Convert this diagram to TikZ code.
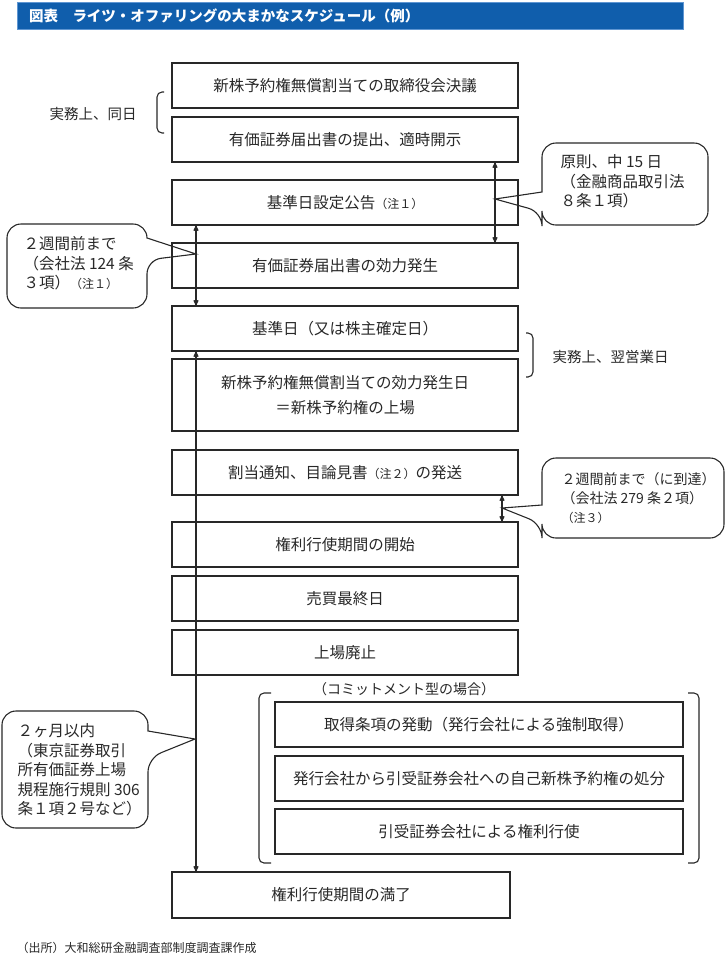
\documentclass[tikz,border=0pt]{standalone}
\usepackage{fontspec}
\setmainfont{Noto Sans CJK JP}
\usetikzlibrary{arrows, positioning}

\definecolor{barblue}{RGB}{16,94,172}
\definecolor{barline}{RGB}{95,150,210}
\definecolor{ink}{RGB}{40,40,40}

\newcommand{\chu}[1]{{\fontsize{12}{14}\selectfont #1}}

\begin{document}
\begin{tikzpicture}[x=1pt,y=-1pt,>=stealth',line width=1.1pt,
    font=\fontsize{15.5}{19.5}\selectfont,
    box/.style={draw=ink, text=ink, minimum width=346pt, minimum height=45pt, inner sep=0pt, outer sep=0pt},
    subbox/.style={box, minimum width=408pt},
    memo/.style={anchor=north west, align=left, inner sep=0pt, text=ink},
    bubble/.style={draw=ink, rounded corners=14pt},
    brace/.style={draw=ink, rounded corners=5pt},
    titlebar/.style={fill=barblue, draw=barline, line width=0.8pt, text=white, minimum height=27pt,
      text width=642pt, inner xsep=12pt, align=left, font=\fontsize{14.5}{17}\selectfont\bfseries}]
  \useasboundingbox (0,0) rectangle (726,959);
  \node[titlebar] (title) at (350,15.5) {図表　ライツ・オファリングの大まかなスケジュール（例）};

  \node[box]                 (b1)  at (345,85.5) {新株予約権無償割当ての取締役会決議};
  \node[box, below=9pt of b1]  (b2)  {有価証券届出書の提出、適時開示};
  \node[box, below=18pt of b2] (b3)  {基準日設定公告\chu{（注１）}};
  \node[box, below=18pt of b3] (b4)  {有価証券届出書の効力発生};
  \node[box, below=18pt of b4] (b5)  {基準日（又は株主確定日）};
  \node[box, below=8pt of b5, minimum height=72pt, align=center] (b6)
       {新株予約権無償割当ての効力発生日\\[6pt]＝新株予約権の上場};
  \node[box, below=19pt of b6] (b7)  {割当通知、目論見書\chu{（注２）}の発送};
  \node[box, below=27pt of b7] (b8)  {権利行使期間の開始};
  \node[box, below=9pt of b8]  (b9)  {売買最終日};
  \node[box, below=9pt of b9]  (b10) {上場廃止};
  \node[subbox]                (k1)  at (479,724.5) {取得条項の発動（発行会社による強制取得）};
  \node[subbox, below=9pt of k1] (k2) {発行会社から引受証券会社への自己新株予約権の処分};
  \node[subbox, below=8pt of k2] (k3) {引受証券会社による権利行使};
  \node[box, minimum width=338pt, minimum height=46pt, anchor=north west] (b14) at (172,872) {権利行使期間の満了};

  % side notes and brackets
  \node[text=ink, font=\fontsize{14.5}{17}\selectfont] (sameday) at (93,114) {実務上、同日};
  \draw[brace] (164,92) -- (157,92) -- (157,133) -- (164,133);
  \node[text=ink, anchor=west, inner sep=0pt, font=\fontsize{14.5}{17}\selectfont] (nextday) at (552,357) {実務上、翌営業日};
  \draw[brace] (526,333) -- (533,333) -- (533,377) -- (526,377);
  \node[text=ink, font=\fontsize{14}{16}\selectfont] (commit) at (404,689) {（コミットメント型の場合）};
  \draw[brace] (271,693) -- (259,693) -- (259,863) -- (271,863);
  \draw[brace] (688,693) -- (699,693) -- (699,863) -- (688,863);

  % period arrows
  \coordinate (ra) at (495,0);
  \coordinate (la) at (196,0);
  \coordinate (rb) at (502,0);
  \draw[<->, draw=ink] (b2.south -| ra) -- (b4.north -| ra);
  \draw[<->, draw=ink] (b3.south -| la) -- (b5.north -| la);
  \draw[<->, draw=ink] (b5.south -| la) -- (b14.north -| la);
  \draw[<->, draw=ink] (b7.south -| rb) -- (b8.north -| rb);

  % callouts
  \coordinate (t1) at (196,254);
  \coordinate (t2) at (495,199);
  \coordinate (t3) at (502,508);
  \coordinate (t4) at (195,739);
  \draw[bubble] (147,238) -- (147,224) -- (7,224) -- (7,308) -- (147,308) -- (147,260) [sharp corners] -- (t1) -- cycle;
  \node[memo] (c1) at (23,236) {２週間前まで\\（会社法 124 条\\３項）\chu{（注１）}};
  \draw[bubble] (542,192) -- (542,143) -- (708,143) -- (708,225) -- (542,225) -- (542,212) [sharp corners] -- (t2) -- cycle;
  \node[memo] (c2) at (560,154) {原則、中 15 日\\（金融商品取引法\\８条１項）};
  \draw[bubble] (542,505) -- (542,458) -- (724,458) -- (724,538) -- (542,538) -- (542,524) [sharp corners] -- (t3) -- cycle;
  \node[memo, font=\fontsize{14}{19}\selectfont] (c3) at (561,472) {２週間前まで（に到達）\\（会社法 279 条２項）\\\chu{（注３）}};
  \draw[bubble] (148,731) -- (148,711) -- (2,711) -- (2,828) -- (148,828) -- (148,758) [sharp corners] -- (t4) -- cycle;
  \node[memo] (c4) at (17,723) {２ヶ月以内\\（東京証券取引\\所有価証券上場\\規程施行規則 306\\条１項２号など）};

  \node[text=ink, anchor=west, inner sep=0pt, font=\fontsize{12}{14}\selectfont] (source) at (16,948) {（出所）大和総研金融調査部制度調査課作成};
\end{tikzpicture}
\end{document}
